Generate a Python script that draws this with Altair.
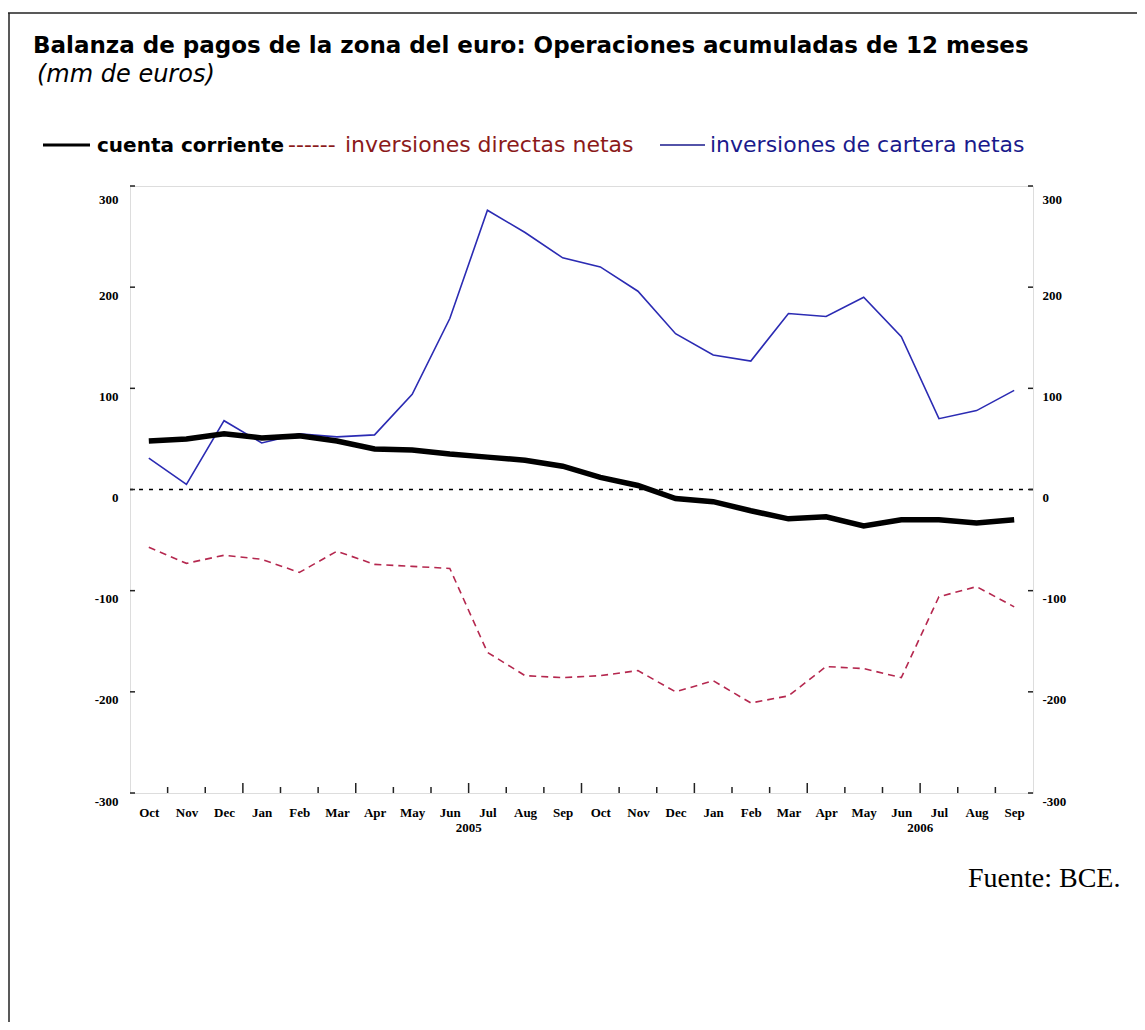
import altair as alt
import pandas as pd

# ---- data ----
month_labels = ["Oct", "Nov", "Dec", "Jan", "Feb", "Mar", "Apr", "May", "Jun", "Jul", "Aug", "Sep",
                "Oct", "Nov", "Dec", "Jan", "Feb", "Mar", "Apr", "May", "Jun", "Jul", "Aug", "Sep"]
cuenta_corriente = [48, 50, 55, 51, 53, 48, 40, 39, 35, 32, 29, 23,
                    12, 4, -9, -12, -21, -29, -27, -36, -30, -30, -33, -30]
inv_directas = [-57, -73, -65, -69, -82, -61, -74, -76, -78, -161, -184, -186,
                -184, -179, -200, -189, -211, -204, -175, -177, -186, -106, -96, -116]
inv_cartera = [31, 5, 68, 46, 55, 52, 54, 94, 169, 276, 254, 229,
               220, 196, 154, 133, 127, 174, 171, 190, 151, 70, 78, 98]
y_ticks = [-300, -200, -100, 0, 100, 200, 300]
years = ["2005", "2006"]
year_pos = [8.5, 20.5]

W, H = 903, 607
FONT = "DejaVu Sans"
SERIF = "Liberation Serif"

idx = list(range(len(month_labels)))
df_cc = pd.DataFrame({"m": idx, "v": cuenta_corriente})
df_dir = pd.DataFrame({"m": idx, "v": inv_directas})
df_cart = pd.DataFrame({"m": idx, "v": inv_cartera})

bounds = [i + 0.5 for i in range(len(month_labels) - 1)]
major = [month_labels[i + 1] in ("Jan", "Apr", "Jul", "Oct") for i in range(len(bounds))]
df_ticks = pd.DataFrame({"b": bounds, "major": major})
df_yt = pd.DataFrame({"v": y_ticks})
df_years = pd.DataFrame({"b": year_pos, "t": years})

xscale = alt.Scale(domain=[-0.5, 23.5], nice=False, zero=False)
yscale = alt.Scale(domain=[-300, 300], nice=False, zero=False)

label_js = "[" + ",".join("'%s'" % s for s in month_labels) + "]"

x_main = alt.X("m:Q", scale=xscale, title=None,
               axis=alt.Axis(values=idx, labelExpr=label_js + "[datum.value]",
                             ticks=False, tickSize=0, domain=False, grid=False,
                             labelFont=SERIF, labelFontSize=13, labelFontWeight="bold",
                             labelColor="#000",
                             labelBaseline="middle", labelPadding=19, labelFlush=False))

y_offset = {"condition": {"test": "datum.value == 300", "value": 13}, "value": 8}

y_left = alt.Y("v:Q", scale=yscale, title=None,
               axis=alt.Axis(orient="left", values=y_ticks, labelExpr="'' + datum.value",
                             ticks=False, tickSize=0, domain=False,
                             grid=False, labelFont=SERIF, labelFontSize=13, labelFontWeight="bold",
                             labelColor="#000",
                             labelPadding=12, labelOffset=y_offset, labelFlush=False))
y_right = alt.Y("v:Q", scale=yscale, title=None,
                axis=alt.Axis(orient="right", values=y_ticks, labelExpr="'' + datum.value",
                              ticks=False, tickSize=0, domain=False,
                              grid=False, labelFont=SERIF, labelFontSize=13, labelFontWeight="bold",
                              labelColor="#000",
                              labelPadding=9, labelOffset=y_offset, labelFlush=False))
y_none = alt.Y("v:Q", scale=yscale, axis=None)
x_none_m = alt.X("m:Q", scale=xscale, axis=None)

zero_line = alt.Chart(df_yt).transform_filter("datum.v == 0").mark_rule(
    color="#000", strokeWidth=1.5, strokeDash=[4, 6]).encode(y=y_left)

dir_line = alt.Chart(df_dir).mark_line(color="#b5284f", strokeWidth=1.6, strokeDash=[7, 5]).encode(
    x=x_main, y=y_right)
cart_line = alt.Chart(df_cart).mark_line(color="#2b2bb3", strokeWidth=1.6).encode(x=x_none_m, y=y_none)
cc_line = alt.Chart(df_cc).mark_line(color="#000", strokeWidth=5.5).encode(x=x_none_m, y=y_none)

# axis ticks drawn inward
xb = alt.X("b:Q", scale=xscale, axis=None)
minor_ticks = alt.Chart(df_ticks).transform_filter("!datum.major").mark_rule(
    color="#222", strokeWidth=1.5).encode(x=xb, y=alt.value(H), y2=alt.value(H - 6))
major_ticks = alt.Chart(df_ticks).transform_filter("datum.major").mark_rule(
    color="#222", strokeWidth=1.5).encode(x=xb, y=alt.value(H), y2=alt.value(H - 10))
yt_left = alt.Chart(df_yt).mark_rule(color="#222", strokeWidth=1.5).encode(
    y=y_none, x=alt.value(0), x2=alt.value(5))
yt_right = alt.Chart(df_yt).mark_rule(color="#222", strokeWidth=1.5).encode(
    y=y_none, x=alt.value(W - 5), x2=alt.value(W))

year_text = alt.Chart(df_years).mark_text(font=SERIF, fontSize=13, fontWeight="bold", color="#000",
                                          baseline="middle").encode(
    x=xb, y=alt.value(H + 35), text="t:N")


def txt(s, x, y, size, color="#000", weight="normal", style="normal", font=FONT, align="left"):
    return alt.Chart(pd.DataFrame({"t": [s]})).mark_text(
        font=font, fontSize=size, color=color, fontWeight=weight, fontStyle=style,
        align=align, baseline="alphabetic").encode(x=alt.value(x), y=alt.value(y), text="t:N")


def hline(x1, x2, y, color, width, dash=None):
    kw = dict(color=color, strokeWidth=width)
    if dash:
        kw["strokeDash"] = dash
    return alt.Chart(pd.DataFrame({"a": [0]})).mark_rule(**kw).encode(
        x=alt.value(x1), x2=alt.value(x2), y=alt.value(y))


def vline(x, y1, y2, color, width):
    return alt.Chart(pd.DataFrame({"a": [0]})).mark_rule(color=color, strokeWidth=width).encode(
        x=alt.value(x), y=alt.value(y1), y2=alt.value(y2))


title = txt("Balanza de pagos de la zona del euro: Operaciones acumuladas de 12 meses",
            -97, -133, 23, weight="bold")
subtitle = txt("(mm de euros)", -93, -104, 24, style="italic")

leg_y = -41
leg = [
    hline(-87, -40, leg_y, "#000", 3),
    txt("cuenta corriente", -33, leg_y + 7, 20, weight="bold"),
    txt("------", 158, leg_y + 7, 22, color="#8b1a1a"),
    txt("inversiones directas netas", 215, leg_y + 7, 22, color="#8b1a1a"),
    hline(530, 575, leg_y, "#1a1a8c", 1.5),
    txt("inversiones de cartera netas", 580, leg_y + 7, 22, color="#1a1a8c"),
]

fuente = txt("Fuente: BCE.", 838, 701, 28, font=SERIF)

border = [
    hline(-122, 1007, -173, "#222", 1.5),
    vline(-121, -173, 836, "#222", 1.5),
]

chart = alt.layer(
    zero_line, dir_line, cart_line, cc_line,
    minor_ticks, major_ticks, yt_left, yt_right, year_text,
    title, subtitle, *leg, fuente, *border,
).resolve_axis(x="independent", y="independent").properties(
    width=W, height=H,
    autosize=alt.AutoSizeParams(type="none"),
    padding={"left": 122, "top": 178, "right": 104, "bottom": 229},
).configure_view(stroke="#333", strokeWidth=2).configure(background="white")

chart.save("out.html", embed_options={"renderer": "svg", "actions": False})
